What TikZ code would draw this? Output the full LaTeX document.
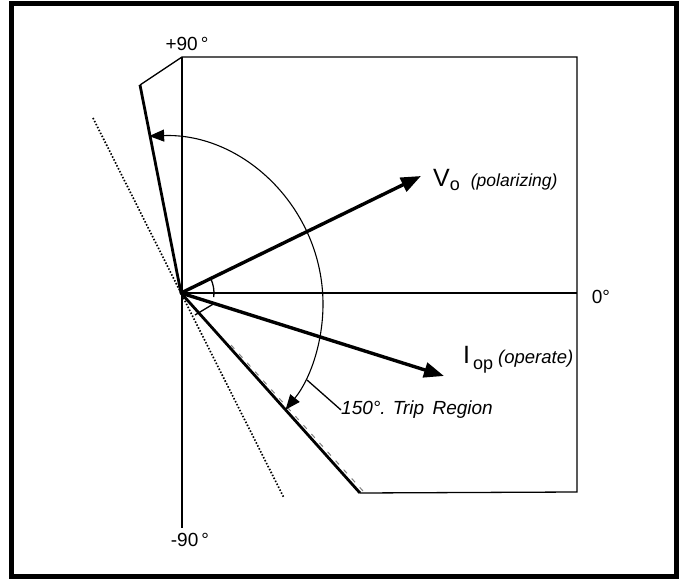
\documentclass[tikz,border=0pt]{standalone}
\usepackage{fontspec}
\setmainfont{Liberation Sans}
\usetikzlibrary{arrows.meta}

\begin{document}
\begin{tikzpicture}[
  x=1pt, y=1pt,
  thin/.style={line width=1.3pt},
  bound/.style={line width=2.8pt},
  vec/.style={line width=3.4pt, -{Triangle[length=20pt,width=15pt]}},
  sweep/.style={line width=1.1pt,
    {Triangle[length=15pt,width=12pt]}-{Triangle[length=15pt,width=12pt]}},
  deg/.style={font=\fontsize{19}{22}\selectfont, inner sep=0pt},
  lbl/.style={inner sep=0pt, anchor=west}
]
  \useasboundingbox (0,0) rectangle (685,579);
  \draw[line width=5pt] (11,3) rectangle (676,575);

  % points of the phasor plot
  \coordinate (O) at (181,286);
  \coordinate (top) at (182,522);
  \coordinate (bot) at (182,51);
  \coordinate (tr) at (577,522);
  \coordinate (zero) at (577,286);
  \coordinate (br) at (577,87);
  \coordinate (lo) at (360,86);
  \coordinate (up) at (140,494);
  \coordinate (vo) at (421,403);
  \coordinate (iop) at (444,203);
  \coordinate (dotA) at (93,461);
  \coordinate (dotB) at (284,81);

  % axes and trip region outline
  \draw[thin] (top) -- (bot);
  \draw[thin] (O) -- (zero);
  \draw[thin] (up) -- (top) -- (tr) -- (br) -- (lo);
  \draw[bound] (up) -- (O) -- (lo);
  \draw[gray, line width=1pt, dash pattern=on 5pt off 7pt] (231,234) -- (363,88);
  \draw[line width=1.7pt, dash pattern=on 1.5pt off 1.8pt] (dotA) -- (dotB);

  % phasors
  \draw[vec] (O) -- (vo);
  \draw[vec] (O) -- (iop);

  % 150 deg sweep and small angle marks
  \draw[sweep] ([shift={(92:168)}]155,275) arc[start angle=92, end angle=-39, radius=168];
  \draw[thin] ([shift={(26:33)}]O) arc[start angle=26, end angle=-7, radius=33];
  \draw[thin] ([shift={(14,-22)}]O) -- ([shift={(34,-10)}]O);
  \coordinate (lead) at (307,199);

  % labels
  \node[deg] (p90) at (187,535) {+90\,°};
  \node[deg] (m90) at (190,39) {-90\,°};
  \node[deg] (z0) at (601,282) {0°};
  \node[lbl] (volbl) at (433,399)
    {\fontsize{25}{28}\selectfont V\raisebox{-4pt}{\fontsize{18}{18}\selectfont o}\hspace{11pt}%
     \fontsize{17.5}{20}\selectfont\itshape (polarizing)};
  \node[lbl] (ilbl) at (463,219)
    {\fontsize{25}{28}\selectfont I\hspace{3pt}\raisebox{-6pt}{\fontsize{18}{18}\selectfont op}\hspace{5pt}%
     \fontsize{18.5}{20}\selectfont\itshape (operate)};
  \node[lbl, font=\fontsize{19}{22}\selectfont\itshape] (trip) at (341,169) {150°. Trip\, Region};
  \draw[thin] (lead) -- (trip.west);
\end{tikzpicture}
\end{document}
